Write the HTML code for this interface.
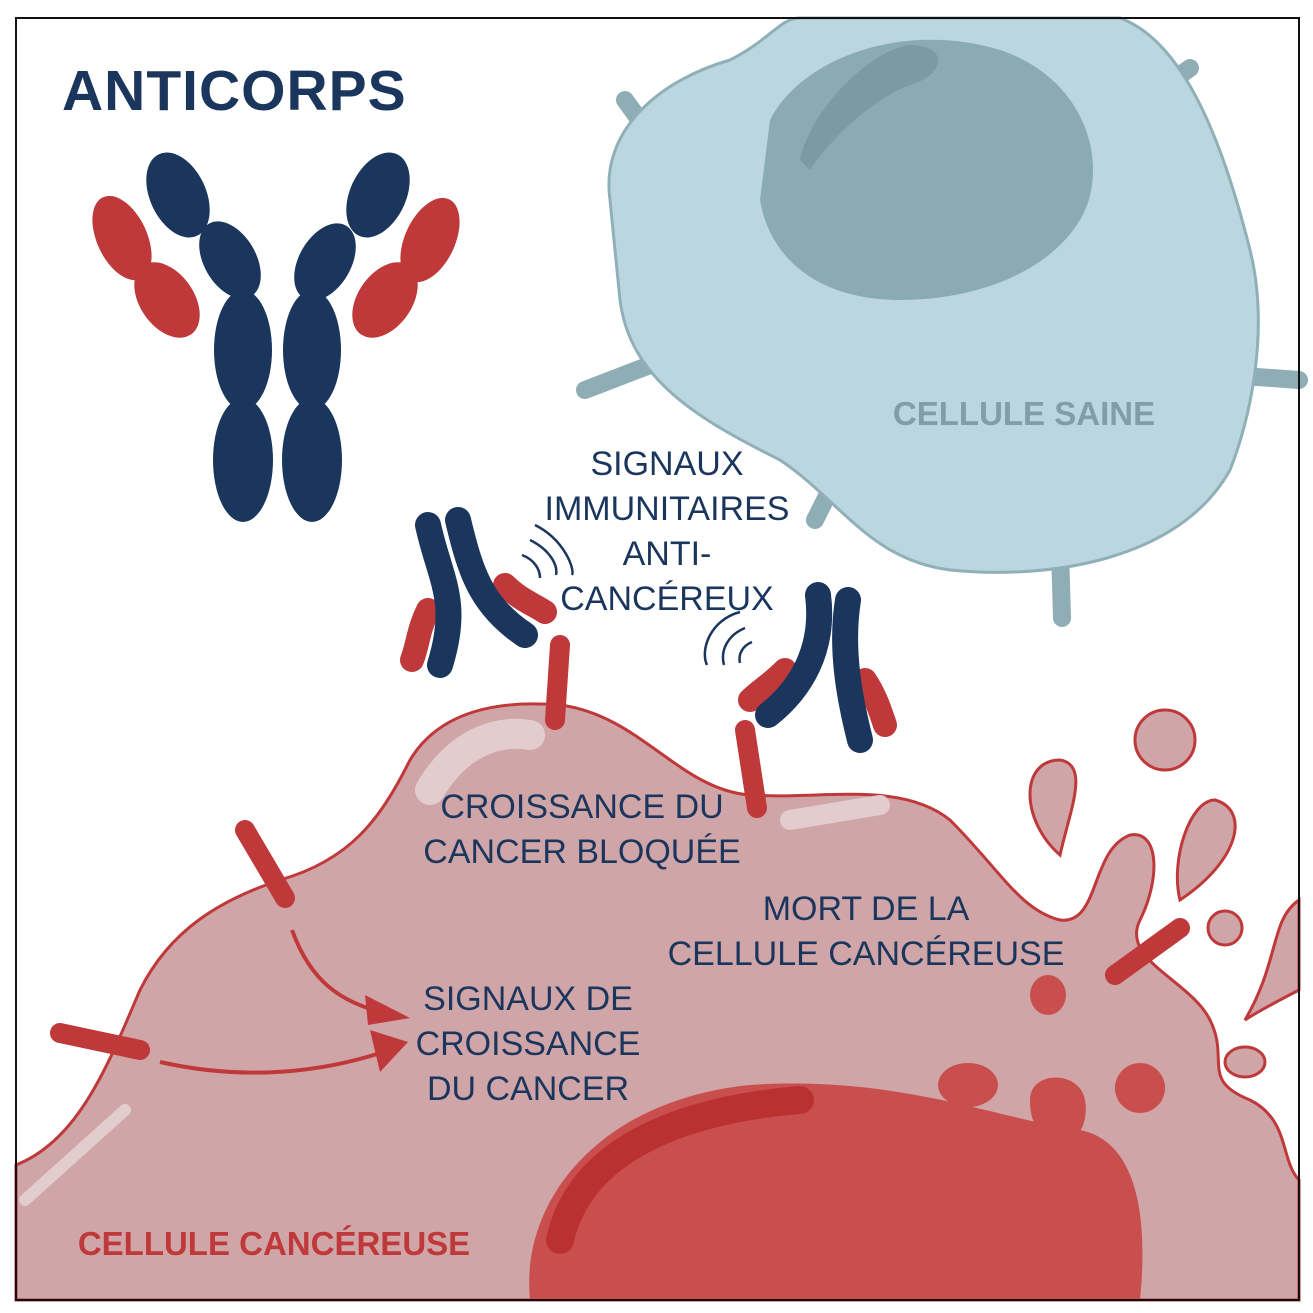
<!DOCTYPE html>
<html><head><meta charset="utf-8"><style>
body{margin:0;background:#fff}
svg{display:block}
text{font-family:"Liberation Sans",sans-serif}
</style></head><body>
<svg width="1313" height="1313" viewBox="0 0 1313 1313">
<rect width="1313" height="1313" fill="#fff"/>
<g stroke="#8eadb5" stroke-width="18" stroke-linecap="round">
<line x1="625" y1="100" x2="665" y2="155"/>
<line x1="1190" y1="68" x2="1135" y2="108"/>
<line x1="585" y1="390" x2="650" y2="365"/>
<line x1="1230" y1="375" x2="1299" y2="380"/>
<line x1="845" y1="460" x2="815" y2="520"/>
<line x1="1060" y1="550" x2="1062" y2="618"/>
</g>
<path d="M610,200 C600,130 660,80 730,60 C770,40 780,18 800,18 L1120,18 C1180,40 1220,130 1250,250 C1270,330 1250,420 1230,470 C1180,560 1050,580 950,570 C870,560 840,500 780,460 C700,420 630,380 620,300 Z" fill="#bcd6df" stroke="#8fb0b8" stroke-width="3"/>
<path d="M770,120 C800,60 900,20 1000,50 C1090,80 1110,170 1080,220 C1050,270 980,300 900,300 C820,300 770,260 760,200 Z" fill="#8aabb3"/>
<path d="M800,160 C810,110 870,50 910,45 C950,45 945,75 910,85 C870,100 830,140 810,170 Z" fill="#7c9aa2"/>
<text x="1024" y="425" font-size="33" font-weight="bold" fill="#7f9ea6" text-anchor="middle">CELLULE SAINE</text>

<path d="M16,1165 C80,1140 110,1060 140,990 C170,930 220,900 280,880 C350,860 380,820 410,760 C440,710 500,700 560,705 C640,715 680,790 750,795 C820,800 900,780 950,820 C1000,870 1020,910 1060,920 C1100,925 1090,850 1130,835 C1160,830 1160,880 1140,920 C1120,960 1190,980 1210,1020 C1230,1060 1200,1080 1250,1100 C1290,1120 1280,1160 1299,1180 L1299,1300 L16,1300 Z" fill="#d0a5a7" stroke="#c0393a" stroke-width="3"/>
<path d="M530,1300 C520,1200 600,1100 750,1085 C900,1075 1000,1120 1080,1130 C1130,1140 1150,1200 1140,1300 Z" fill="#c94f4f"/>
<path d="M560,1240 C580,1150 680,1110 800,1100" stroke="#bb3131" stroke-width="28" fill="none" stroke-linecap="round"/>
<path d="M430,790 C460,740 500,730 530,735" stroke="#e3cccd" stroke-width="30" fill="none" stroke-linecap="round"/>
<path d="M790,820 L880,805" stroke="#e3cccd" stroke-width="20" fill="none" stroke-linecap="round"/>
<path d="M25,1200 L125,1110" stroke="#e3cccd" stroke-width="12" fill="none" stroke-linecap="round"/>
<g fill="#d0a5a7" stroke="#c0393a" stroke-width="3">
<circle cx="1165" cy="740" r="30"/>
<path d="M1060,855 C1020,820 1020,760 1060,760 C1090,765 1070,810 1060,855 Z"/>
<path d="M1180,900 C1170,860 1190,800 1215,800 C1250,810 1240,860 1180,900 Z"/>
<circle cx="1225" cy="928" r="17"/>
<path d="M1245,1020 C1280,960 1270,920 1299,900 L1299,990 C1280,1000 1260,1010 1245,1020 Z"/>
<ellipse cx="1245" cy="1062" rx="20" ry="15"/>
</g>
<g fill="#c94f4f">
<ellipse cx="1048" cy="995" rx="18" ry="20"/>
<ellipse cx="968" cy="1085" rx="30" ry="22"/>
<path d="M1030,1100 C1030,1070 1080,1070 1085,1100 C1090,1130 1070,1150 1055,1140 C1035,1130 1030,1120 1030,1100 Z"/>
<ellipse cx="1140" cy="1088" rx="25" ry="25"/>
</g>
<text x="274" y="1255" font-size="33" font-weight="bold" fill="#c0393a" text-anchor="middle">CELLULE CANCÉREUSE</text>

<g stroke="#c0393a" stroke-width="20" stroke-linecap="round">
<line x1="245" y1="830" x2="285" y2="898"/>
<line x1="60" y1="1033" x2="140" y2="1050"/>
<line x1="560" y1="645" x2="555" y2="720"/>
<line x1="745" y1="730" x2="757" y2="808"/>
<line x1="1115" y1="975" x2="1180" y2="928"/>
</g>
<g stroke="#c0393a" stroke-width="4" fill="none">
<path d="M292,930 C310,980 340,1005 395,1015"/>
<path d="M160,1062 C240,1080 320,1075 395,1048"/>
</g>
<path d="M365,995 L410,1018 L368,1025 Z" fill="#c0393a"/>
<path d="M370,1030 L408,1042 L380,1072 Z" fill="#c0393a"/>

<!-- big antibody lobed -->
<g fill="#c0393a">
<ellipse cx="122" cy="238" rx="25" ry="45" transform="rotate(-25 122 238)"/>
<ellipse cx="167" cy="300" rx="27" ry="42" transform="rotate(-35 167 300)"/>
<ellipse cx="430" cy="240" rx="25" ry="45" transform="rotate(25 430 240)"/>
<ellipse cx="385" cy="300" rx="27" ry="42" transform="rotate(35 385 300)"/>
</g>
<g fill="#1b365d">
<ellipse cx="178" cy="195" rx="28" ry="45" transform="rotate(-25 178 195)"/>
<ellipse cx="230" cy="260" rx="26" ry="42" transform="rotate(-30 230 260)"/>
<ellipse cx="243" cy="350" rx="29" ry="60"/>
<ellipse cx="243" cy="460" rx="30" ry="62"/>
<ellipse cx="378" cy="195" rx="28" ry="45" transform="rotate(25 378 195)"/>
<ellipse cx="325" cy="262" rx="26" ry="42" transform="rotate(30 325 262)"/>
<ellipse cx="312" cy="350" rx="29" ry="60"/>
<ellipse cx="312" cy="460" rx="30" ry="62"/>
</g>
<text x="62" y="110" font-size="57" font-weight="bold" fill="#1b365d" letter-spacing="1">ANTICORPS</text>

<g stroke-linecap="round" fill="none">
<path d="M428,610 C418,630 418,645 412,660" stroke="#c0393a" stroke-width="24"/>
<path d="M505,585 C520,600 535,605 545,612" stroke="#c0393a" stroke-width="24"/>
<path d="M428,525 C440,580 460,600 440,665" stroke="#1b365d" stroke-width="26"/>
<path d="M458,520 C470,570 480,605 525,635" stroke="#1b365d" stroke-width="26"/>
</g>
<g stroke-linecap="round" fill="none">
<path d="M785,670 C770,685 760,690 750,700" stroke="#c0393a" stroke-width="24"/>
<path d="M865,680 C875,695 880,710 885,725" stroke="#c0393a" stroke-width="24"/>
<path d="M818,595 C825,650 800,690 768,715" stroke="#1b365d" stroke-width="26"/>
<path d="M848,600 C840,650 850,700 860,740" stroke="#1b365d" stroke-width="26"/>
</g>
<g stroke="#1b365d" stroke-width="2.5" fill="none">
<path d="M535,525 C565,540 575,570 572,575"/>
<path d="M530,540 C550,550 558,565 556,575"/>
<path d="M522,555 C535,560 540,570 540,578"/>
<path d="M740,612 C710,620 700,650 707,665"/>
<path d="M745,628 C728,635 720,650 724,665"/>
<path d="M752,642 C742,646 738,655 740,663"/>
</g>

<g font-size="34" fill="#1b365d" text-anchor="middle">
<text x="667" y="475">SIGNAUX</text>
<text x="667" y="520">IMMUNITAIRES</text>
<text x="667" y="565">ANTI-</text>
<text x="667" y="610">CANCÉREUX</text>
<text x="582" y="818">CROISSANCE DU</text>
<text x="582" y="863">CANCER BLOQUÉE</text>
<text x="866" y="920">MORT DE LA</text>
<text x="866" y="965">CELLULE CANCÉREUSE</text>
<text x="528" y="1010">SIGNAUX DE</text>
<text x="528" y="1055">CROISSANCE</text>
<text x="528" y="1100">DU CANCER</text>
</g>
<rect x="16" y="18" width="1283" height="1282" fill="none" stroke="#111" stroke-width="2"/>
</svg>
</body></html>
